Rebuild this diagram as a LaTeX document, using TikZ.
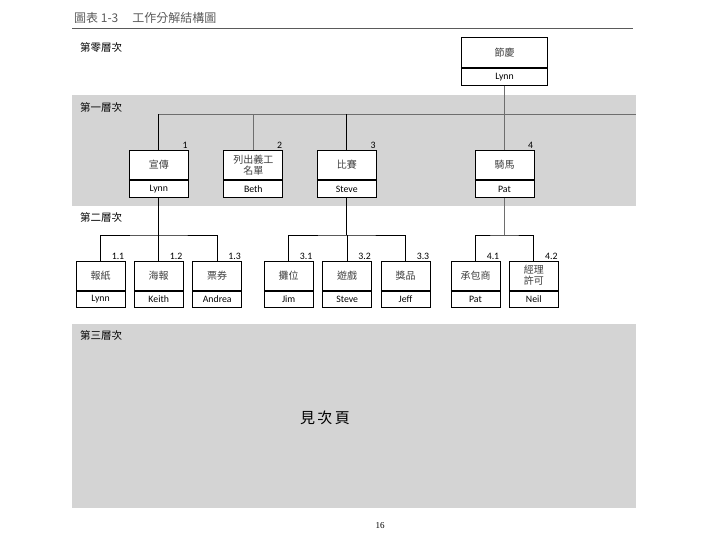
\documentclass[tikz,border=0pt]{standalone}
\usepackage{fontspec}
\setmainfont{Noto Sans CJK TC}
\newfontfamily\latinsans{Carlito}
\newfontfamily\serifnum{Liberation Serif}
\usetikzlibrary{calc}
\definecolor{bandgray}{RGB}{212,212,212}
\definecolor{titlegray}{RGB}{90,90,90}
\definecolor{linkgray}{RGB}{110,110,110}
\tikzset{
  wbstop/.style={draw=black, line width=0.8pt, fill=white, minimum height=29.5pt, inner sep=0pt,
    font=\fontsize{10}{11}\selectfont, align=center, text=black!75},
  wbsname/.style={draw=black, line width=0.8pt, fill=white, minimum height=16.5pt, inner sep=0pt,
    anchor=north, font=\latinsans\fontsize{9.8}{10}\selectfont},
  wbsnum/.style={anchor=south east, inner sep=1pt, font=\latinsans\fontsize{9.8}{10}\selectfont},
  lvl/.style={anchor=west, inner sep=0pt, font=\fontsize{10.5}{12}\selectfont},
  link/.style={line width=0.8pt, black},
  glink/.style={line width=0.7pt, linkgray},
  divider/.style={line width=1.8pt, black}
}
\newcommand{\wbsbox}[6]{% name, x, y(top), width, top text, name text
  \node[wbstop, minimum width=#4pt, anchor=north] (#1) at (#2,#3) {#5};
  \node[wbsname, minimum width=#4pt] (#1n) at (#1.south) {#6};
  \draw[divider] (#1.south west) -- (#1.south east);
}
\begin{document}
\begin{tikzpicture}[x=1pt,y=-1pt]
\useasboundingbox (0,0) rectangle (720,540);
% bands
\fill[bandgray] (72,95) rectangle (636,206);
\fill[bandgray] (72,324) rectangle (636,508);
% title
\node[anchor=west, inner sep=0pt, text=titlegray, font=\fontsize{12}{13}\selectfont] (title) at (74,18) {圖表 1-3\hspace{14pt}工作分解結構圖};
\draw[line width=0.7pt, titlegray] (72,28) -- (633,28);
% level labels
\node[lvl] (l0) at (80,47) {第零層次};
\node[lvl] (l1) at (80,107) {第一層次};
\node[lvl] (l2) at (80,217) {第二層次};
\node[lvl] (l3) at (80,335) {第三層次};
% root
\node[wbstop, minimum width=86.5pt, minimum height=30.5pt, anchor=north] (root) at (504.5,37) {節慶};
\node[wbsname, minimum width=86.5pt] (rootn) at (root.south) {Lynn};
\draw[divider] (root.south west) -- (root.south east);
% level 1
\wbsbox{a}{158.8}{150}{59}{宣傳}{Lynn}
\wbsbox{b}{253.3}{150}{59}{\fontsize{10}{10.5}\selectfont 列出義工\\名單}{Beth}
\wbsbox{c}{346.8}{150}{59}{比賽}{Steve}
\wbsbox{d}{504.5}{150}{59}{騎馬}{Pat}
\node[wbsnum] (na) at (a.north east) {1};
\node[wbsnum] (nb) at (b.north east) {2};
\node[wbsnum] (nc) at (c.north east) {3};
\node[wbsnum] (nd) at (d.north east) {4};
\coordinate (h1end) at (636,114.5);
\draw[glink] (a.north) |- (h1end);
\draw[glink] (b.north) -- (b.north |- h1end);
\draw[link] (c.north) -- (c.north |- h1end);
\draw[link] (a.north) -- (a.north |- h1end);
\draw[glink] (rootn.south) -- (d.north);
% level 2
\wbsbox{a1}{100.5}{260.5}{49}{報紙}{Lynn}
\wbsbox{a2}{158.7}{260.5}{49}{海報}{Keith}
\wbsbox{a3}{217.2}{260.5}{49}{票券}{Andrea}
\wbsbox{c1}{288.7}{260.5}{49}{攤位}{Jim}
\wbsbox{c2}{347.2}{260.5}{49}{遊戲}{Steve}
\wbsbox{c3}{405.5}{260.5}{49}{獎品}{Jeff}
\wbsbox{d1}{475.5}{260.5}{49}{承包商}{Pat}
\wbsbox{d2}{533.8}{260.5}{49}{\fontsize{10}{10.5}\selectfont 經理\\許可}{Neil}
\node[wbsnum] (na1) at (a1.north east) {1.1};
\node[wbsnum] (na2) at (a2.north east) {1.2};
\node[wbsnum] (na3) at (a3.north east) {1.3};
\node[wbsnum] (nc1) at (c1.north east) {3.1};
\node[wbsnum] (nc2) at (c2.north east) {3.2};
\node[wbsnum] (nc3) at (c3.north east) {3.3};
\node[wbsnum] (nd1) at (d1.north east) {4.1};
\node[wbsnum] (nd2) at (d2.north east) {4.2};
\coordinate (ba) at (an.south |- 0,235);
\coordinate (bc) at (cn.south |- 0,235);
\coordinate (bd) at (dn.south |- 0,235);
\draw[link] (an.south) -- (ba);
\draw[link] (a1.north) |- (ba) -| (a3.north);
\draw[link] (a2.north) -- (a2.north |- ba);
\draw[link] (cn.south) -- (bc);
\draw[link] (c1.north) |- (bc) -| (c3.north);
\draw[link] (c2.north) -- (c2.north |- bc);
\draw[glink] (dn.south) -- (bd);
\draw[link] (d1.north) |- (bd) -| (d2.north);
% level 3
\node[inner sep=0pt, font=\fontsize{15}{16}\selectfont] (next) at (325,418) {見\,次\,頁};
% page number
\node[inner sep=0pt, font=\serifnum\fontsize{9}{10}\selectfont] (page) at (380,526) {16};
\end{tikzpicture}
\end{document}
